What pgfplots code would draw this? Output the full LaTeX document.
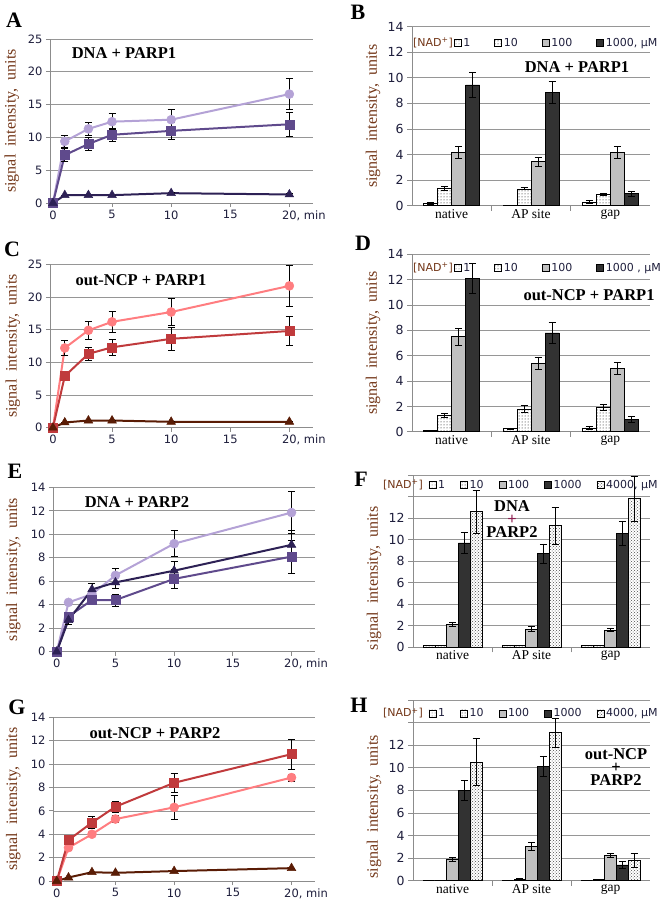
\documentclass[border=0pt]{standalone}
\usepackage{fontspec}
\setmainfont{Liberation Serif}
\newfontfamily\dvs{DejaVu Sans}
\usepackage{pgfplots}
\pgfplotsset{compat=1.18}
\usetikzlibrary{patterns}

\definecolor{lav}{RGB}{180,162,214}
\definecolor{pur}{RGB}{95,74,140}
\definecolor{nav}{RGB}{45,33,85}
\definecolor{pnk}{RGB}{255,125,128}
\definecolor{rd}{RGB}{192,58,60}
\definecolor{brn}{RGB}{90,28,5}
\definecolor{gridc}{RGB}{150,150,150}
\definecolor{axisc}{RGB}{140,140,140}
\definecolor{tickc}{RGB}{30,30,60}
\definecolor{labc}{RGB}{115,55,25}
\definecolor{dk}{RGB}{50,50,50}
\definecolor{lg}{RGB}{192,192,192}
\definecolor{plusc}{RGB}{140,30,80}

\newcommand\tickfont{\dvs\fontsize{11.5}{13}\selectfont}
\newcommand\btickfont{\dvs\fontsize{12.5}{14}\selectfont}
\newcommand\legfont{\dvs\fontsize{11}{13}\selectfont}
\newcommand\labfont{\fontsize{16}{18}\selectfont}
\newcommand\titfont{\bfseries\fontsize{16.5}{18}\selectfont}
\newcommand\stkfont{\bfseries\fontsize{16.5}{13}\selectfont}
\newcommand\letfont{\bfseries\fontsize{22}{24}\selectfont}
\newcommand\catfont{\fontsize{13.5}{15}\selectfont}

\pgfplotsset{
  base/.style={scale only axis, clip=false, axis x line*=bottom, axis y line*=left,
    ymajorgrids, grid style={gridc, line width=0.7pt},
    axis line style={axisc, line width=0.8pt}, tick style={axisc, line width=0.8pt},
    tick align=outside, major tick length=4pt,
    ticklabel style={font=\tickfont, text=tickc},
    /pgf/number format/assume math mode=true,
    ylabel={signal\ \ intensity,\ \ units},
    ylabel style={font=\labfont, text=labc, anchor=center}, ymin=0},
  eb/.style={error bars/y dir=both, error bars/y explicit,
    error bars/error bar style={black, line width=0.8pt},
    error bars/error mark options={rotate=90, black, mark size=3.5pt, line width=0.8pt}},
  lineax/.style={base, xmax=22, xtick={0,5,10,15,20},
    xticklabels={0,5,10,15,{20\rlap{, min}}}},
  ser/.style={line width=2pt, color=#1, mark options={fill=#1, draw=#1, solid, line width=0.5pt}},
  barax/.style={base, ybar=0pt, xmin=-0.5, xmax=2.5, xtick={0.5,1.5}, xticklabels={,,},
    major tick length=5pt, yticklabel style={font=\btickfont},
    extra x ticks={0,1,2}, extra x tick labels={native,AP site,gap},
    extra x tick style={major tick length=0pt, xticklabel style={font=\catfont, text=black}},
    ylabel style={at={(axis description cs:-0.164,0.5)}},
    legend columns=-1,
    legend style={draw=none, fill=none, text=tickc, inner sep=0pt, font=\legfont,
      /tikz/every even column/.append style={column sep=#1}}},
  bl/.style={legend image code/.code={\draw[##1, line width=0.5pt] (0pt,-3.5pt) rectangle (7pt,3.5pt);}},
  f1/.style={fill=white, postaction={pattern=dots, pattern color=black!60}},
  f10/.style={fill=white, postaction={pattern=dots, pattern color=black}},
  f100/.style={fill=lg},
  f1000/.style={fill=dk},
  f4000/.style={fill=white, postaction={pattern=crosshatch dots, pattern color=black!70}},
  bb/.style={draw=black, line width=0.6pt},
}

\begin{document}
\begin{tikzpicture}
\path[use as bounding box] (0pt,0pt) rectangle (660pt,-908pt);

% ---------------- A
\begin{axis}[lineax, at={(50pt,-203pt)}, anchor=south west, width=263pt, height=164pt,
  xmin=-0.25, ymax=25, ytick={0,5,...,25},
  ylabel style={at={(axis description cs:-0.145,0.5)}}]
\addplot[ser=lav, mark=*, mark size=4.5pt, eb] table[y error=e] {
x y e
0 0 0
1 9.4 0.9
3 11.3 1.0
5 12.4 1.2
10 12.7 1.6
20 16.6 2.4
};
\addplot[ser=pur, mark=square*, mark size=4.5pt, eb] table[y error=e] {
x y e
0 0 0
1 7.3 1.0
3 9.0 1.0
5 10.4 1.0
10 11.0 1.3
20 12.0 1.8
};
\addplot[ser=nav, mark=triangle*, mark size=5pt, eb] table[y error=e] {
x y e
0 0 0
1 1.2 0
3 1.2 0
5 1.2 0
10 1.5 0.1
20 1.3 0.1
};
\end{axis}

% ---------------- C
\begin{axis}[lineax, at={(50pt,-427.7pt)}, anchor=south west, width=263pt, height=163.4pt,
  xmin=-0.25, ymax=25, ytick={0,5,...,25},
  ylabel style={at={(axis description cs:-0.141,0.5)}}]
\addplot[ser=pnk, mark=*, mark size=4.5pt, eb] table[y error=e] {
x y e
0 0 0
1 12.2 1.1
3 14.9 1.4
5 16.2 1.6
10 17.7 2.1
20 21.7 3.2
};
\addplot[ser=rd, mark=square*, mark size=4.5pt, eb] table[y error=e] {
x y e
0 0 0
1 7.9 0.5
3 11.3 1.0
5 12.3 1.2
10 13.6 1.7
20 14.8 2.2
};
\addplot[ser=brn, mark=triangle*, mark size=5pt, eb] table[y error=e] {
x y e
0 0 0
1 0.8 0
3 1.1 0
5 1.1 0
10 0.9 0
20 0.9 0
};
\end{axis}

% ---------------- E
\begin{axis}[lineax, at={(53pt,-651.7pt)}, anchor=south west, width=262pt, height=164.4pt,
  xmin=-0.32, ymax=14, ytick={0,2,...,14},
  ylabel style={at={(axis description cs:-0.152,0.5)}}]
\addplot[ser=lav, mark=*, mark size=4.5pt, eb] table[y error=e] {
x y e
0 0 0
1 4.2 0.2
3 4.9 0.3
5 6.5 0.6
10 9.2 1.1
20 11.85 1.8
};
\addplot[ser=pur, mark=square*, mark size=4.5pt, eb] table[y error=e] {
x y e
0 0 0
1 3.0 0.3
3 4.4 0.4
5 4.4 0.5
10 6.2 0.8
20 8.1 1.4
};
\addplot[ser=nav, mark=triangle*, mark size=5pt, eb] table[y error=e] {
x y e
0 0 0
1 2.7 0.4
3 5.3 0.5
5 5.9 0.5
10 6.9 0.8
20 9.1 1.2
};
\end{axis}

% ---------------- G
\begin{axis}[lineax, at={(53pt,-881pt)}, anchor=south west, width=262pt, height=163.7pt,
  xmin=-0.32, ymax=14, ytick={0,2,...,14},
  ylabel style={at={(axis description cs:-0.152,0.5)}}]
\addplot[ser=pnk, mark=*, mark size=4.5pt, eb] table[y error=e] {
x y e
0 0 0
1 2.85 0.2
3 4.0 0.2
5 5.3 0.3
10 6.3 1.0
20 8.85 0.3
};
\addplot[ser=rd, mark=square*, mark size=4.5pt, eb] table[y error=e] {
x y e
0 0 0
1 3.5 0.3
3 5.0 0.5
5 6.35 0.45
10 8.4 0.8
20 10.85 1.3
};
\addplot[ser=brn, mark=triangle*, mark size=5pt, eb] table[y error=e] {
x y e
0 0 0
1 0.3 0
3 0.75 0
5 0.7 0
10 0.85 0
20 1.1 0
};
\end{axis}

% ---------------- B
\begin{axis}[barax=22pt, bar width=14pt, at={(412pt,-205.7pt)}, anchor=south west, width=238pt, height=179pt,
  ymax=14, ytick={0,2,...,14},
  legend style={at={(axis description cs:0.175,0.909)}, anchor=west}]
\addplot[bb, f1, bl, eb] coordinates {(0,0.15) +- (0,0.07) (1,0.05) +- (0,0) (2,0.3) +- (0,0.1)};
\addlegendentry{1}
\addplot[bb, f10, bl, eb] coordinates {(0,1.35) +- (0,0.15) (1,1.32) +- (0,0.08) (2,0.9) +- (0,0.1)};
\addlegendentry{10}
\addplot[bb, f100, bl, eb] coordinates {(0,4.15) +- (0,0.45) (1,3.45) +- (0,0.35) (2,4.15) +- (0,0.45)};
\addlegendentry{100}
\addplot[bb, f1000, bl, eb] coordinates {(0,9.45) +- (0,1.0) (1,8.85) +- (0,0.85) (2,0.95) +- (0,0.2)};
\addlegendentry{1000, µM}
\end{axis}

% ---------------- D
\begin{axis}[barax=22pt, bar width=14pt, at={(412pt,-431.7pt)}, anchor=south west, width=238pt, height=177.4pt,
  ymax=14, ytick={0,2,...,14},
  legend style={at={(axis description cs:0.175,0.923)}, anchor=west}]
\addplot[bb, f1, bl, eb] coordinates {(0,0.1) +- (0,0) (1,0.25) +- (0,0.05) (2,0.3) +- (0,0.1)};
\addlegendentry{1}
\addplot[bb, f10, bl, eb] coordinates {(0,1.3) +- (0,0.15) (1,1.8) +- (0,0.25) (2,1.9) +- (0,0.25)};
\addlegendentry{10}
\addplot[bb, f100, bl, eb] coordinates {(0,7.5) +- (0,0.65) (1,5.4) +- (0,0.5) (2,5.0) +- (0,0.5)};
\addlegendentry{100}
\addplot[bb, f1000, bl, eb] coordinates {(0,12.1) +- (0,1.15) (1,7.8) +- (0,0.8) (2,0.95) +- (0,0.25)};
\addlegendentry{1000 , µM}
\end{axis}

% ---------------- F
\begin{axis}[barax=13pt, bar width=11.8pt, at={(413pt,-647.3pt)}, anchor=south west, width=237pt, height=172.3pt,
  ymax=16, ytick={0,2,...,16}, yticklabels={0,2,4,6,8,10,12,{},{}},
  ylabel style={at={(axis description cs:-0.164,0.4)}},
  legend style={at={(axis description cs:0.065,0.942)}, anchor=west}]
\addplot[bb, f1, bl, eb] coordinates {(0,0.15) +- (0,0) (1,0.15) +- (0,0) (2,0.15) +- (0,0)};
\addlegendentry{1}
\addplot[bb, f10, bl, eb] coordinates {(0,0.15) +- (0,0) (1,0.15) +- (0,0) (2,0.15) +- (0,0)};
\addlegendentry{10}
\addplot[bb, f100, bl, eb] coordinates {(0,2.1) +- (0,0.2) (1,1.7) +- (0,0.25) (2,1.6) +- (0,0.15)};
\addlegendentry{100}
\addplot[bb, f1000, bl, eb] coordinates {(0,9.7) +- (0,1.0) (1,8.7) +- (0,0.9) (2,10.6) +- (0,1.1)};
\addlegendentry{1000}
\addplot[bb, f4000, bl, eb] coordinates {(0,12.6) +- (0,2.0) (1,11.3) +- (0,1.7) (2,13.8) +- (0,2.1)};
\addlegendentry{4000, µM}
\end{axis}

% ---------------- H
\begin{axis}[barax=13pt, bar width=11.8pt, at={(413pt,-880.7pt)}, anchor=south west, width=237pt, height=180.7pt,
  ymax=16, ytick={0,2,...,16}, yticklabels={0,2,4,6,8,10,12,{},{}},
  ylabel style={at={(axis description cs:-0.164,0.41)}},
  legend style={at={(axis description cs:0.065,0.926)}, anchor=west}]
\addplot[bb, f1, bl, eb] coordinates {(0,0.05) +- (0,0) (1,0.05) +- (0,0) (2,0.05) +- (0,0)};
\addlegendentry{1}
\addplot[bb, f10, bl, eb] coordinates {(0,0.05) +- (0,0) (1,0.15) +- (0,0.08) (2,0.1) +- (0,0)};
\addlegendentry{10}
\addplot[bb, f100, bl, eb] coordinates {(0,1.9) +- (0,0.15) (1,3.05) +- (0,0.35) (2,2.25) +- (0,0.2)};
\addlegendentry{100}
\addplot[bb, f1000, bl, eb] coordinates {(0,8.0) +- (0,0.85) (1,10.1) +- (0,0.9) (2,1.4) +- (0,0.3)};
\addlegendentry{1000}
\addplot[bb, f4000, bl, eb] coordinates {(0,10.5) +- (0,2.1) (1,13.1) +- (0,1.3) (2,1.8) +- (0,0.6)};
\addlegendentry{4000, µM}
\end{axis}

% ---------------- [NAD+] legend captions
\node[font=\legfont, text=labc, anchor=west, inner sep=0pt] at (413pt,-43pt) {[NAD\textsuperscript{+}]};
\node[font=\legfont, text=labc, anchor=west, inner sep=0pt] at (413pt,-268pt) {[NAD\textsuperscript{+}]};
\node[font=\legfont, text=labc, anchor=west, inner sep=0pt] at (383pt,-485pt) {[NAD\textsuperscript{+}]};
\node[font=\legfont, text=labc, anchor=west, inner sep=0pt] at (383pt,-713.3pt) {[NAD\textsuperscript{+}]};

% ---------------- titles and letters
\node[font=\letfont] at (14pt,-20pt) {A};
\node[font=\letfont] at (358pt,-12pt) {B};
\node[font=\letfont] at (12pt,-249pt) {C};
\node[font=\letfont] at (363pt,-243pt) {D};
\node[font=\letfont] at (15pt,-471pt) {E};
\node[font=\letfont] at (361pt,-479pt) {F};
\node[font=\letfont] at (17pt,-707pt) {G};
\node[font=\letfont] at (359pt,-705pt) {H};

\node[font=\titfont] at (124pt,-53pt) {DNA + PARP1};
\node[font=\titfont] at (141pt,-280pt) {out-NCP + PARP1};
\node[font=\titfont] at (137pt,-502pt) {DNA + PARP2};
\node[font=\titfont] at (155pt,-733pt) {out-NCP + PARP2};
\node[font=\titfont] at (577pt,-67pt) {DNA + PARP1};
\node[font=\titfont] at (589pt,-295pt) {out-NCP + PARP1};
\node[font=\stkfont, align=center, inner sep=0pt] at (512pt,-519.5pt) {DNA\\\textcolor{plusc}{+}\\PARP2};
\node[font=\stkfont, align=center, inner sep=0pt] at (616pt,-767pt) {out-NCP\\+\\PARP2};
\end{tikzpicture}
\end{document}
